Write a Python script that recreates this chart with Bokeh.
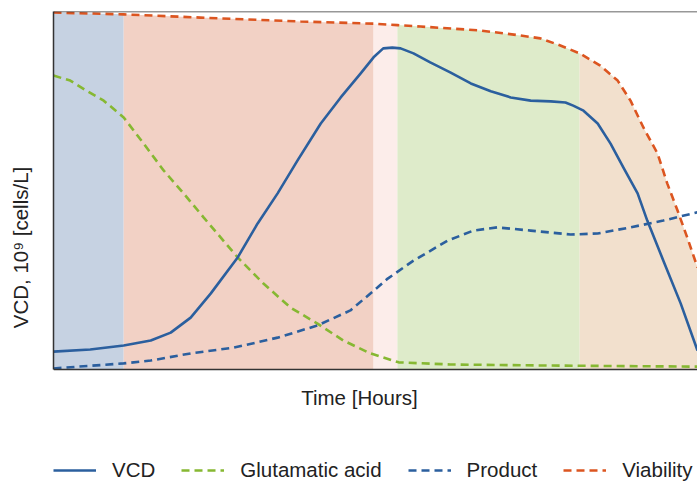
from bokeh.plotting import figure
from bokeh.models import Range1d, Legend, LegendItem, Span, FixedTicker
from bokeh.embed import file_html
from bokeh.resources import INLINE

# ---- data (time in arbitrary units 0-100, values in % of axis height) ----
vcd_t = [0, 5.7, 10.9, 15.1, 18.2, 21.3, 24.4, 28.6, 31.7, 34.8, 37.9, 41.5, 44.6, 47.7,
         49.7, 51.2, 52.6, 53.9, 55.9, 58.5, 61.6, 64.8, 67.9, 71.0, 74.1, 77.2, 79.5,
         80.7, 82.3, 84.5, 86.5, 88.5, 90.7, 92.2, 94.7, 97.4, 100]
vcd_v = [5.0, 5.6, 6.7, 8.1, 10.3, 14.5, 21.2, 31.3, 40.8, 49.2, 58.4, 68.7, 76.0, 82.7,
         87.2, 89.7, 89.9, 89.7, 88.3, 85.8, 83.0, 79.9, 77.7, 76.0, 75.1, 74.9, 74.6,
         73.7, 72.3, 68.7, 63.1, 56.4, 49.2, 41.6, 30.4, 18.4, 5.3]

glu_t = [0, 2.6, 5.1, 7.8, 10.9, 14.0, 17.1, 20.2, 23.3, 28.6, 32.6, 36.8, 41.0, 45.0,
         49.2, 53.6, 61.6, 77.2, 100]
glu_v = [82.1, 80.7, 77.9, 75.1, 70.4, 63.1, 55.6, 49.2, 42.5, 31.3, 24.0, 17.3, 12.8,
         8.1, 4.5, 2.0, 1.4, 1.1, 0.8]

prod_t = [0, 10.9, 15.1, 21.3, 28.0, 34.8, 41.0, 46.1, 50.3, 51.9, 55.9, 61.2, 65.2,
          68.9, 74.1, 80.3, 84.5, 89.6, 94.7, 100]
prod_v = [0.3, 1.7, 2.5, 4.5, 6.1, 8.9, 12.3, 16.5, 22.9, 25.4, 30.4, 36.0, 38.8,
          39.7, 38.8, 37.7, 38.0, 39.7, 41.6, 43.9]

via_t = [0, 10.9, 22.8, 38.4, 49.7, 53.4, 57.0, 66.3, 72.5, 75.6, 78.7, 81.7, 84.9,
         87.6, 89.6, 91.6, 93.8, 95.3, 96.9, 98.4, 100]
via_v = [99.7, 99.2, 98.3, 97.2, 96.6, 96.2, 95.8, 94.7, 93.3, 92.5, 90.5, 88.3, 84.9,
         80.7, 75.1, 67.6, 60.3, 52.0, 44.4, 36.9, 28.5]

band_edges = [0, 10.9, 49.7, 53.4, 81.7, 100]
band_colors = ["#c6d2e2", "#f2d1c5", "#fcedea", "#deebca", "#f2e0cd"]

series_names = ["VCD", "Glutamatic acid", "Product", "Viability"]

FONT = "Liberation Sans"
TXT = "#222222"
FS = "20.5px"
FRAME = "#333333"

# layout: data area 358 px tall, 114 px of space below it (axis title + legend)
W, H = 697, 483
TOP, LEFT = 11, 53
PLOT_H = 358
Y_MAX = 100
Y_MIN = -Y_MAX * (H - TOP - PLOT_H) / PLOT_H
X_MAX = 100
XLABEL_SPAN = 95.0   # x axis title is centred over this part of the time axis

p = figure(width=W, height=H, x_range=Range1d(0, X_MAX), y_range=Range1d(Y_MIN, Y_MAX),
           output_backend="svg", toolbar_location=None,
           min_border_left=LEFT, min_border_right=0, min_border_top=TOP, min_border_bottom=0)
p.outline_line_color = None
p.grid.visible = False
p.background_fill_color = "white"
p.border_fill_color = "white"

# background phase bands bounded above by the viability curve
for i, col in enumerate(band_colors):
    a, b = band_edges[i], band_edges[i + 1]
    xs = [t for t in via_t if a <= t <= b]
    ys = [v for t, v in zip(via_t, via_v) if a <= t <= b]
    p.varea(x=xs, y1=[0] * len(xs), y2=ys, fill_color=col, fill_alpha=1.0)

lw = 2.6
r_glu = p.line(glu_t, glu_v, line_color="#86b832", line_width=lw, line_dash="8 5")
r_prod = p.line(prod_t, prod_v, line_color="#2b5f9e", line_width=lw, line_dash="8 5")
r_via = p.line(via_t, via_v, line_color="#dc5520", line_width=lw, line_dash="8 5")
r_vcd = p.line(vcd_t, vcd_v, line_color="#2b5f9e", line_width=lw, line_join="round")

# top and bottom frame lines
p.add_layout(Span(location=Y_MAX, dimension="width", line_color=FRAME, line_width=1.5))
p.add_layout(Span(location=0, dimension="width", line_color=FRAME, line_width=1.5))

for ax in (p.xaxis[0], p.yaxis[0]):
    ax.ticker = FixedTicker(ticks=[])
    ax.major_tick_out = 0
    ax.major_tick_in = 0
    ax.minor_tick_out = 0
    ax.minor_tick_in = 0
    ax.major_label_standoff = 0
    ax.axis_line_color = FRAME
    ax.axis_line_width = 1.5
    ax.axis_label_text_font = FONT
    ax.axis_label_text_font_size = FS
    ax.axis_label_text_font_style = "normal"
    ax.axis_label_text_color = TXT

p.xaxis[0].axis_label = "Time [Hours]"
p.xaxis[0].fixed_location = 0
p.xaxis[0].bounds = (0, XLABEL_SPAN)
p.xaxis[0].axis_line_color = None
p.xaxis[0].axis_label_standoff = 16
p.yaxis[0].axis_label = "VCD, 10\u2079 [cells/L]"
p.yaxis[0].bounds = (0, Y_MAX)
p.yaxis[0].axis_label_standoff = 22

legend = Legend(items=[LegendItem(label=series_names[0], renderers=[r_vcd]),
                       LegendItem(label=series_names[1], renderers=[r_glu]),
                       LegendItem(label=series_names[2], renderers=[r_prod]),
                       LegendItem(label=series_names[3], renderers=[r_via])],
                orientation="horizontal", location=(0, 1))
legend.border_line_color = None
legend.background_fill_alpha = 0
legend.padding = 0
legend.margin = 0
legend.spacing = 26
legend.glyph_width = 43
legend.label_standoff = 16
legend.label_text_font = FONT
legend.label_text_font_size = FS
legend.label_text_color = TXT
p.add_layout(legend, "center")

open("out.html", "w").write(file_html(p, INLINE))
